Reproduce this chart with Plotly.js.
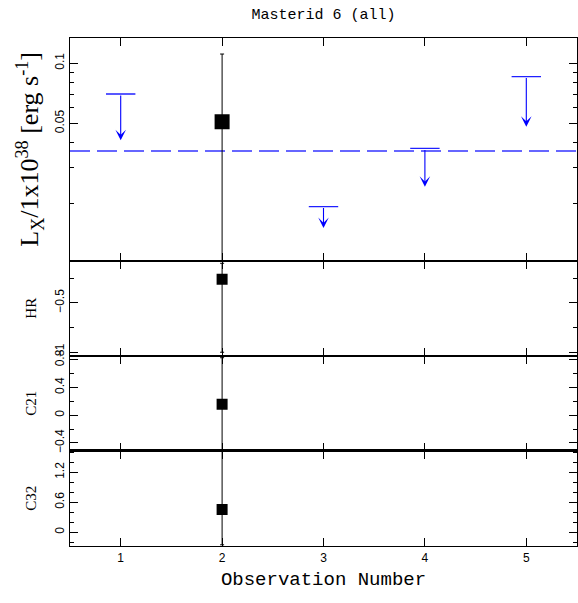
<!DOCTYPE html>
<html>
<head>
<meta charset="utf-8">
<script src="https://cdn.plot.ly/plotly-3.0.1.min.js"></script>
<style>html,body{margin:0;padding:0;background:#fff;}</style>
</head>
<body>
<div id="chart" style="width:578px;height:603px;"></div>
<script>
// ---- data ----
const xTicks = [1, 2, 3, 4, 5];
const xTickLabels = ['1', '2', '3', '4', '5'];

// detection (top panel)
const detObs = [2];
const detLx = [0.051];
const detLxHi = [0.111];
const detLxLo = [0.004];

// upper limits (top panel)
const ulObs = [1, 3, 4, 5];
const ulLx = [0.0701, 0.0192, 0.0375, 0.0857];
const ulArrowTo = [0.0412, 0.0150, 0.0241, 0.0481];

// mean upper limit (dashed line)
const meanUL = 0.0364;

// hardness ratios
const hrObs = [2];
const hrVal = [-0.262];
const hrHi = [-0.10];
const hrLo = [-1.00];

const c21Obs = [2];
const c21Val = [0.159];
const c21Hi = [0.83];
const c21Lo = [-0.495];

const c32Obs = [2];
const c32Val = [0.456];
const c32Hi = [1.64];
const c32Lo = [-0.25];

// tick labels
const lxTickVals = [0.05, 0.1];
const lxTickText = ['0.05', '0.1'];
const lxMinorVals = [0.02, 0.03, 0.04, 0.06, 0.07, 0.08, 0.09];

// ---- styling ----
const tickFont = {family: 'Liberation Sans, Arial, sans-serif', size: 12, color: '#000'};
const serif = 'Liberation Serif, Times New Roman, serif';
const mono = 'Liberation Mono, Courier New, monospace';

function diff(a, b) { return a.map((v, i) => v - b[i]); }

function errTrace(x, y, hi, lo, xa, ya, size) {
  return {
    x: x, y: y, xaxis: xa, yaxis: ya, type: 'scatter', mode: 'markers',
    marker: {symbol: 'square', size: size, color: '#000'},
    error_y: {type: 'data', symmetric: false, array: diff(hi, y), arrayminus: diff(y, lo),
              color: '#000', thickness: 1, width: 2},
    showlegend: false, hoverinfo: 'skip'
  };
}

const xRange = [0.5, 5.5];

const traces = [
  {
    x: xRange, y: [meanUL, meanUL], xaxis: 'x', yaxis: 'y', type: 'scatter', mode: 'lines',
    line: {color: '#6666ff', width: 2, dash: '20px,7px'},
    showlegend: false, hoverinfo: 'skip'
  },
  errTrace(detObs, detLx, detLxHi, detLxLo, 'x', 'y', 15),
  {
    x: ulObs, y: ulLx, xaxis: 'x', yaxis: 'y', type: 'scatter', mode: 'markers',
    marker: {symbol: 'line-ew', size: 21, color: '#0000ff', line: {color: '#2020ff', width: 1.3}},
    showlegend: false, hoverinfo: 'skip'
  },
  errTrace(hrObs, hrVal, hrHi, hrLo, 'x2', 'y2', 11),
  errTrace(c21Obs, c21Val, c21Hi, c21Lo, 'x3', 'y3', 11),
  errTrace(c32Obs, c32Val, c32Hi, c32Lo, 'x4', 'y4', 11)
];

const annotations = ulObs.map((o, i) => ({
  x: o, y: Math.log10(ulArrowTo[i]), ax: o, ay: Math.log10(ulLx[i]),
  xref: 'x', yref: 'y', axref: 'x', ayref: 'y',
  text: '', showarrow: true, arrowhead: 3, arrowsize: 1.6, arrowwidth: 1.1,
  arrowcolor: '#0000ff', standoff: 0, startstandoff: 0
}));

function xAxis(anchor, showLabels) {
  return {
    anchor: anchor, range: xRange, tickmode: 'array', tickvals: xTicks, ticktext: xTickLabels,
    ticks: 'inside', ticklen: 8, tickwidth: 1, tickcolor: '#000',
    showline: true, linecolor: '#000', linewidth: 1.2, mirror: 'ticks',
    showgrid: false, zeroline: false, showticklabels: showLabels, tickfont: tickFont
  };
}
function yAxis(anchor, domain, range, dtick, minorDtick, title) {
  return {
    anchor: anchor, domain: domain, range: range, dtick: dtick, tick0: 0,
    ticks: 'inside', ticklen: 8, tickwidth: 1, tickcolor: '#000',
    minor: {dtick: minorDtick, tick0: 0, ticks: 'inside', ticklen: 4, tickcolor: '#000', tickwidth: 1},
    showline: true, linecolor: '#000', linewidth: 1.2, mirror: 'ticks',
    showgrid: false, zeroline: false, tickangle: -90, tickfont: tickFont,
    title: {text: title, font: {family: serif, size: 15, color: '#000'}, standoff: 12}
  };
}

const d = [0, 0.1876, 0.3746, 0.5616, 1];

const layout = {
  width: 578, height: 603,
  margin: {l: 70, r: 1, t: 38, b: 57},
  paper_bgcolor: '#fff', plot_bgcolor: '#fff',
  showlegend: false,
  title: {text: 'Masterid 6 (all)', font: {family: mono, size: 15, color: '#000'},
          x: 0.5, xref: 'paper', y: 1 - 14 / 603, yref: 'container', yanchor: 'middle'},
  xaxis: xAxis('y', false),
  xaxis2: xAxis('y2', false),
  xaxis3: xAxis('y3', false),
  xaxis4: Object.assign(xAxis('y4', true), {
    title: {text: 'Observation Number', font: {family: mono, size: 19, color: '#000'}, standoff: 8}
  }),
  yaxis: {
    anchor: 'x', domain: [d[3], d[4]], type: 'log',
    range: [Math.log10(0.0103), Math.log10(0.1335)],
    tickmode: 'array', tickvals: lxTickVals, ticktext: lxTickText,
    ticks: 'inside', ticklen: 8, tickwidth: 1, tickcolor: '#000',
    minor: {tickmode: 'array', tickvals: lxMinorVals, ticks: 'inside', ticklen: 4, tickcolor: '#000', tickwidth: 1},
    showline: true, linecolor: '#000', linewidth: 1.2, mirror: 'ticks',
    showgrid: false, zeroline: false, tickangle: -90, tickfont: tickFont,
    title: {text: 'L<sub>X</sub>/1x10<sup>38</sup> [erg s<sup>-1</sup>]',
            font: {family: serif, size: 26, color: '#000'}, standoff: 6}
  },
  yaxis2: yAxis('x2', [d[2], d[3]], [-1.035, -0.074], 0.5, 0.25, 'HR'),
  yaxis3: yAxis('x3', [d[1], d[2]], [-0.512, 0.859], 0.4, 0.2, 'C21'),
  yaxis4: yAxis('x4', [d[0], d[1]], [-0.274, 1.632], 0.6, 0.2, 'C32'),
  annotations: annotations
};

Plotly.newPlot('chart', traces, layout, {staticPlot: true, displayModeBar: false});
</script>
</body>
</html>
